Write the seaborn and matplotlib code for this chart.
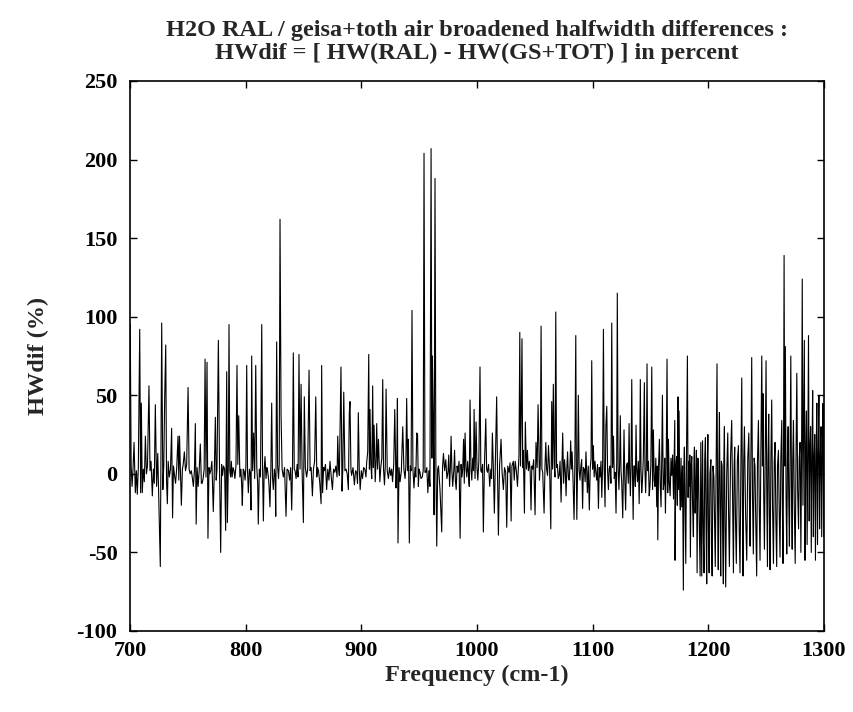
import numpy as np
import pandas as pd
import matplotlib
matplotlib.use("Agg")
import matplotlib.pyplot as plt
import seaborn as sns

# ---- data: (frequency cm-1, HWdif %) ----
seg_700_783 = [
    (700.2, 95), (701.0, 5), (701.8, -8), (702.6, 3), (703.5, 20), (704.6, -12), (705.5, 2), (706.3, -13),
    (707.2, 4), (708.4, 92), (709.2, -12), (709.8, 45), (710.6, -12), (711.5, 3), (712.4, -5), (713.3, 24),
    (714.2, 0), (715.1, 5), (716.4, 56), (717.3, 2), (718.2, 8), (719.3, -14), (720.2, 3), (721.0, -6),
    (721.9, 44), (723.0, -8), (724.0, 13), (725.0, -20), (726.2, -59), (727.4, 96), (728.4, -10), (729.2, 5),
    (730.0, 49), (730.9, 82), (731.6, -5), (732.3, -19), (733.0, 8), (734.0, -2), (735.0, 3), (736.0, 29),
    (736.8, -28), (737.6, 5), (738.5, -1), (739.4, -6), (740.4, 4), (741.5, 24), (742.2, -4), (742.8, 24),
    (743.6, 2), (744.4, -20), (745.3, 3), (746.0, 6), (747.0, 14), (748.0, 2), (749.0, 6), (750.2, 55),
    (751.1, 3), (752.0, 0), (753.0, 2), (754.0, -3), (754.8, -8), (755.7, 2), (756.5, 32), (757.2, -32),
    (758.0, 4), (758.9, -8), (759.8, 2), (760.8, 19), (761.7, -6), (762.4, -6), (763.2, -3), (764.1, 3),
    (764.9, 73), (765.7, -2), (766.6, 71), (767.4, -41), (768.3, 4), (769.0, 0), (769.8, 2), (770.8, 8),
    (772.0, -24), (772.9, 2), (773.8, 36), (774.5, -4), (775.2, 3), (776.4, 85), (777.4, 3), (778.4, -50),
    (779.2, 6), (780.0, -1), (780.9, 5), (781.8, 3), (782.7, -36), (783.6, 65),
]
seg_784_866 = [
    (784.2, -31), (785.0, 5), (785.6, 95), (786.3, 2), (787.0, -2), (787.6, 8), (788.3, -2), (789.1, 4),
    (789.9, 2), (790.7, -3), (791.6, 5), (792.5, 69), (793.2, 6), (794.0, 37), (795.0, -2), (795.9, 3),
    (796.6, -8), (797.1, -20), (797.9, 3), (798.6, 2), (799.5, -4), (800.2, 5), (800.9, 69), (801.6, 2),
    (802.3, -12), (803.2, 3), (804.0, 0), (804.6, -23), (805.2, 75), (806.0, 2), (806.9, 26), (807.8, -3),
    (808.7, 69), (809.6, 4), (810.4, -6), (810.9, -32), (811.8, 3), (812.8, -2), (813.9, 95), (814.6, 4),
    (815.3, -30), (816.0, 2), (816.7, 11), (817.6, -3), (818.3, 4), (819.0, 2), (820.0, -5), (821.0, -21),
    (821.8, 4), (822.5, 45), (823.2, -2), (823.9, -10), (824.8, 3), (825.5, -2), (826.0, -27), (826.8, 84),
    (827.6, 5), (828.4, -3), (829.0, 6), (829.7, 162), (830.6, 37), (831.5, 3), (832.6, -2), (833.6, 4),
    (834.9, -27), (835.8, 3), (837.0, 2), (838.0, -4), (838.9, 4), (839.8, -23), (840.5, 5), (841.2, 77),
    (842.0, 3), (842.7, 2), (843.6, -3), (844.5, 6), (845.3, -2), (846.1, 76), (847.0, 3), (847.9, 57),
    (848.8, 2), (849.9, -31), (850.7, 49), (851.6, 4), (852.7, -2), (853.6, 3), (854.8, 66), (855.7, 2),
    (856.6, 4), (857.7, -14), (858.6, 3), (859.6, 8), (860.6, 49), (861.5, -2), (862.2, 4), (863.0, 2),
    (864.1, -6), (865.2, -19), (865.7, 69), (866.5, -12),
]
seg_867_948 = [
    (867.4, 4), (868.0, 2), (869.0, 6), (870.0, -10), (871.0, 3), (872.0, -4), (872.9, 8), (874.0, -2),
    (875.0, -10), (876.0, 3), (877.0, 1), (878.0, 5), (879.0, -2), (879.6, 24), (880.4, 3), (881.0, -1),
    (882.4, 68), (883.3, -11), (884.0, 4), (884.8, 52), (885.8, 2), (886.8, 3), (887.8, 0), (888.8, -10),
    (889.6, 39), (890.2, 46), (891.0, 3), (891.6, -1), (892.8, 4), (894.0, -7), (895.0, 2), (896.0, 1),
    (896.7, -6), (897.4, 39), (898.2, 3), (899.0, -10), (900.0, 2), (901.0, -3), (902.0, 4), (903.0, 3),
    (904.0, -2), (904.6, 7), (905.5, 14), (906.4, 76), (907.0, 3), (907.5, 41), (908.2, 6), (909.0, -3),
    (909.8, 56), (910.4, 4), (911.0, 31), (912.0, -5), (912.7, 8), (913.3, 32), (914.0, 3), (914.8, 22),
    (916.0, -5), (916.8, 4), (917.7, 10), (918.5, 60), (919.2, 3), (920.0, -7), (920.7, 5), (921.4, 54),
    (922.4, 2), (923.4, -3), (924.4, 4), (925.4, -1), (926.2, 3), (927.0, -5), (928.0, 6), (928.9, 41),
    (930.0, -9), (930.6, 5), (931.2, 48), (931.7, -44), (932.6, 4), (933.5, -5), (934.6, 2), (935.8, 30),
    (936.8, 3), (937.8, -3), (938.5, 5), (939.2, 48), (940.0, 2), (940.7, 22), (941.5, -44), (942.4, 5),
    (943.0, 2), (943.8, 104), (944.6, 3), (945.5, -9), (946.4, 4), (947.1, -2), (947.9, 26),
]
seg_948_1030 = [
    (948.6, 25), (949.3, -8), (950.0, 3), (950.7, 1), (951.6, -3), (952.7, -2), (953.5, 2), (954.2, 204),
    (955.0, 1), (955.8, 1), (956.6, 4), (957.5, -12), (958.4, 2), (959.3, -8), (960.3, 207), (961.0, 10),
    (961.4, 75), (962.2, 36), (962.9, -26), (963.7, 188), (964.4, 10), (965.2, -46), (966.0, 3), (966.7, 5),
    (968.0, -10), (969.5, -37), (970.2, 4), (971.0, 13), (972.0, 2), (973.0, 9), (974.0, -3), (974.9, 1),
    (975.6, 12), (976.3, -8), (977.0, 4), (977.6, 24), (978.3, 2), (979.0, -8), (980.0, 3), (980.6, 15),
    (981.3, -4), (982.0, -10), (982.8, 5), (983.5, 1), (984.5, 8), (985.4, -41), (986.2, 6), (987.0, -2),
    (987.7, 4), (988.4, 22), (989.0, -6), (989.7, 26), (990.5, 3), (991.2, -2), (991.9, 8), (992.6, 1),
    (993.3, -8), (994.0, 47), (994.8, 3), (995.5, -4), (996.3, 10), (997.0, 2), (997.5, 41), (998.3, -3),
    (999.2, 33), (1000.0, 4), (1000.7, -4), (1001.6, 8), (1002.6, 68), (1003.3, 2), (1004.0, 1), (1004.8, 6),
    (1005.5, -37), (1006.4, 5), (1007.6, 35), (1008.3, 3), (1009.0, 1), (1010.0, 6), (1011.0, -8), (1012.0, 3),
    (1012.6, -3), (1013.3, 26), (1014.2, 2), (1015.0, -25), (1015.8, 4), (1017.0, 49), (1017.7, 3), (1018.5, -39),
    (1019.5, 5), (1020.8, 22), (1021.6, 2), (1022.8, -10), (1023.8, 4), (1024.8, 1), (1025.7, -34), (1026.6, 5),
    (1027.7, 1), (1028.6, 7), (1029.5, -30), (1030.2, 5),
]
seg_1031_1113 = [
    (1031.4, 8), (1032.2, -4), (1033.0, 8), (1034.0, 2), (1035.0, -8), (1036.3, 12), (1037.0, 90), (1037.6, 5),
    (1038.2, 36), (1038.9, 86), (1039.5, 4), (1040.0, 15), (1041.0, -25), (1041.8, 33), (1042.7, 3), (1043.6, 15),
    (1044.4, 2), (1045.3, 8), (1046.0, 1), (1046.7, -23), (1047.4, 5), (1048.1, 3), (1049.0, 9), (1050.2, -26),
    (1051.0, 20), (1052.0, 4), (1052.8, 44), (1054.0, -4), (1054.7, 6), (1055.4, 94), (1056.1, 3), (1056.8, 1),
    (1058.0, -25), (1058.8, 5), (1059.5, 20), (1060.2, 3), (1061.0, -1), (1061.8, 18), (1062.8, 2), (1063.8, -35),
    (1064.6, 46), (1065.3, 3), (1066.0, 57), (1066.8, 6), (1067.4, -2), (1068.1, 103), (1068.8, 4), (1069.5, 6),
    (1070.2, -3), (1071.0, -1), (1071.8, 8), (1072.7, -18), (1073.4, 3), (1074.1, 26), (1074.9, -6), (1075.7, 9),
    (1076.4, 1), (1077.0, -14), (1077.7, 4), (1078.3, 14), (1079.0, -2), (1079.7, -4), (1080.4, 6), (1081.0, 21),
    (1081.6, 3), (1082.2, 14), (1083.0, -3), (1083.9, -29), (1084.6, 6), (1085.4, 88), (1085.9, 5), (1086.3, -29),
    (1087.0, 4), (1087.6, 50), (1088.3, 3), (1089.0, -4), (1089.8, 5), (1090.5, 9), (1091.3, -22), (1092.0, 4),
    (1092.8, 3), (1093.5, -5), (1094.2, 14), (1094.8, 2), (1095.4, -12), (1096.2, 5), (1097.1, -23), (1097.9, 4),
    (1098.6, 10), (1099.2, 72), (1099.9, 3), (1100.6, 18), (1101.3, -2), (1102.0, 8), (1102.7, 1), (1103.5, -4),
    (1104.2, 6), (1105.0, -22), (1105.7, 4), (1106.4, -2), (1107.2, 8), (1107.9, -15), (1108.6, 5), (1109.3, 92),
    (1110.0, 3), (1110.7, -21), (1111.4, 30), (1112.2, 43), (1112.9, 2),
]
seg_1114_1193 = [
    (1113.6, -10), (1114.3, 3), (1115.0, 5), (1115.8, -6), (1116.5, 96), (1117.2, 4), (1118.0, 24), (1118.7, -3),
    (1119.4, 1), (1120.2, -25), (1120.8, 8), (1121.3, 115), (1122.0, 3), (1122.7, -10), (1123.3, 6), (1123.9, 37),
    (1124.5, 2), (1125.1, -5), (1126.0, -28), (1126.6, 4), (1127.1, 28), (1127.8, -4), (1128.5, -23), (1129.2, 5),
    (1130.0, 7), (1130.8, -6), (1131.5, 32), (1132.0, 3), (1132.6, -14), (1133.2, 6), (1133.8, 60), (1134.4, 2),
    (1135.0, -29), (1135.6, 5), (1136.2, 5), (1136.9, -8), (1137.5, 31), (1138.1, 2), (1138.7, -5), (1139.5, 8),
    (1140.2, -19), (1140.7, 6), (1141.2, 60), (1141.8, 2), (1142.4, -12), (1143.0, -5), (1143.8, 10), (1144.7, 58),
    (1145.2, 3), (1145.8, -12), (1146.4, 5), (1147.0, 70), (1147.6, 2), (1148.2, 8), (1148.9, -14), (1149.6, -7),
    (1150.3, 6), (1151.1, 68), (1151.8, -10), (1152.5, 28), (1153.2, -4), (1153.9, -8), (1154.6, 10), (1155.4, -21),
    (1155.9, 5), (1156.3, -42), (1157.0, 6), (1157.7, 22), (1158.4, -6), (1159.1, -21), (1159.7, 8), (1160.3, 50),
    (1161.0, -10), (1161.8, -5), (1162.3, 10), (1162.9, -25), (1163.6, 8), (1164.3, 73), (1164.9, -12), (1165.5, 22),
    (1166.2, -5), (1167.0, -14), (1167.7, 10), (1168.4, -1), (1169.1, 12), (1169.9, -16), (1170.4, 8), (1171.0, 34),
    (1171.2, -55), (1171.9, 5), (1172.6, 11), (1173.2, -20), (1173.8, 49), (1174.2, -10), (1174.7, 40), (1175.3, -12),
    (1175.8, -23), (1176.4, 10), (1177.0, -21), (1177.7, 5), (1178.4, -74), (1178.9, 6), (1179.3, 17), (1179.9, -20),
    (1180.5, -57), (1181.1, 10), (1181.9, 75), (1182.5, -15), (1183.0, 8), (1183.4, -8), (1184.0, 12), (1184.5, -53),
    (1185.1, 5), (1185.7, 11), (1186.4, -20), (1187.1, -40), (1187.6, 10), (1188.0, 17), (1188.6, -25), (1189.2, -8),
    (1189.7, 15), (1190.3, -63), (1190.9, 10), (1191.4, 9), (1192.1, -30), (1192.9, -65),
]
seg_1193_1279 = [
    (1193.5, 20), (1194.3, -65), (1195.0, 21), (1195.7, -40), (1196.3, -63), (1196.9, 10), (1197.5, 23), (1198.0, -30),
    (1198.6, -70), (1199.1, 5), (1199.6, 25), (1200.1, -35), (1200.7, -63), (1201.4, 0), (1202.2, 9), (1202.7, -45),
    (1203.3, -65), (1204.0, 5), (1204.8, -2), (1205.4, -30), (1206.0, -59), (1206.8, 10), (1207.5, 70), (1208.0, -20),
    (1208.6, -61), (1209.1, 5), (1209.6, 39), (1210.2, -25), (1210.7, -65), (1211.3, 8), (1211.9, 5), (1212.4, -40),
    (1213.0, -70), (1213.4, 8), (1213.9, 30), (1214.4, -30), (1215.0, -72), (1215.9, 0), (1216.8, 26), (1217.5, -25),
    (1218.2, -59), (1219.2, 10), (1220.2, 34), (1221.0, -20), (1221.7, -63), (1222.3, 5), (1222.8, 17), (1223.5, -30),
    (1224.2, -57), (1225.1, 8), (1226.0, 18), (1226.7, -35), (1227.4, -63), (1228.2, 10), (1228.9, 61), (1229.5, -20),
    (1230.0, -65), (1230.6, 8), (1231.2, 30), (1232.2, -25), (1233.2, -55), (1234.1, 10), (1235.0, 26), (1235.6, -20),
    (1236.1, -46), (1236.8, 10), (1237.5, 74), (1238.2, -15), (1238.9, -51), (1239.6, 10), (1240.3, 5), (1241.0, -30),
    (1241.8, -65), (1242.5, 8), (1243.3, 34), (1244.0, -20), (1244.7, -55), (1245.4, 12), (1246.2, 75), (1246.8, 5),
    (1247.3, 51), (1247.9, -15), (1248.5, -48), (1249.2, 10), (1249.9, 72), (1250.5, -10), (1251.1, -59), (1251.6, 8),
    (1252.2, 38), (1252.8, -25), (1253.4, -61), (1254.1, 10), (1254.8, 47), (1255.5, -20), (1256.3, -57), (1257.0, 8),
    (1257.7, 20), (1258.4, -30), (1259.1, -59), (1259.8, 5), (1260.6, 15), (1261.3, -25), (1262.0, -53), (1262.7, 10),
    (1263.5, 34), (1264.0, -20), (1264.6, -57), (1265.0, 10), (1265.5, 139), (1266.0, 5), (1266.6, 81), (1267.2, -15),
    (1267.8, -51), (1268.4, 10), (1269.0, 30), (1269.5, -15), (1270.1, -46), (1270.7, 12), (1271.3, 75), (1271.9, -10),
    (1272.5, -48), (1273.0, 10), (1273.6, 34), (1274.3, -20), (1275.1, -57), (1275.8, 10), (1276.5, 64), (1277.2, -10),
    (1278.0, -35), (1278.6, 10),
]
seg_1279_1300 = [
    (1279.3, 20), (1280.0, -50), (1280.6, 10), (1281.2, 124), (1281.8, -20), (1282.4, 30), (1283.0, 85), (1283.6, -55),
    (1284.2, 15), (1284.8, 40), (1285.4, -45), (1286.0, 10), (1286.6, 88), (1287.2, -30), (1287.8, 15), (1288.4, 30),
    (1289.0, -50), (1289.6, 12), (1290.2, 53), (1290.8, -40), (1291.4, 10), (1292.0, 25), (1292.6, -55), (1293.2, 10),
    (1293.8, 45), (1294.4, -45), (1295.0, 12), (1295.6, 50), (1296.2, -35), (1296.8, 10), (1297.4, 30), (1298.0, -40),
    (1298.6, 15), (1299.2, 45), (1299.8, -40),
]

x_ticks = [700, 800, 900, 1000, 1100, 1200, 1300]
y_ticks = [-100, -50, 0, 50, 100, 150, 200, 250]
title_text = "H2O RAL / geisa+toth air broadened halfwidth differences :\nHWdif = [ HW(RAL) - HW(GS+TOT) ] in percent"
x_label = "Frequency (cm-1)"
y_label = "HWdif (%)"

segments = [seg_700_783, seg_784_866, seg_867_948, seg_948_1030,
            seg_1031_1113, seg_1114_1193, seg_1193_1279, seg_1279_1300]
pairs = [p for s in segments for p in s]
df = pd.DataFrame(pairs, columns=["freq", "hwdif"])

sns.set_style("ticks")
plt.rcParams["font.family"] = ["Liberation Serif", "DejaVu Serif"]
plt.rcParams["font.weight"] = "bold"

fig = plt.figure(figsize=(8.54, 7.12), dpi=100)
ax = fig.add_axes([130 / 854, 1 - 631 / 712, (824 - 130) / 854, (631 - 81) / 712])

sns.lineplot(data=df, x="freq", y="hwdif", sort=False, estimator=None,
             color="black", linewidth=0.8, ax=ax)

ax.set_xlim(700, 1300)
ax.set_ylim(-100, 250)
ax.set_xticks(x_ticks)
ax.set_yticks(y_ticks)
ax.set_xticklabels([str(t) for t in x_ticks], fontsize=16, fontweight="bold")
ax.set_yticklabels([str(t) for t in y_ticks], fontsize=16, fontweight="bold")
ax.tick_params(axis="x", direction="in", length=5, width=1, top=True, pad=7, colors="black")
ax.tick_params(axis="y", direction="in", length=5, width=1, right=True, pad=9, colors="black")
for sp in ax.spines.values():
    sp.set_linewidth(1.2)
    sp.set_color("black")
    sp.set_visible(True)

ax.set_xlabel(x_label, fontsize=17.5, fontweight="bold", labelpad=3)
ax.set_ylabel(y_label, fontsize=17.5, fontweight="bold", labelpad=20)
ax.set_title(title_text, fontsize=17.5, fontweight="bold", pad=16, linespacing=1.1)

fig.savefig("out.png", dpi=100, facecolor="white")
